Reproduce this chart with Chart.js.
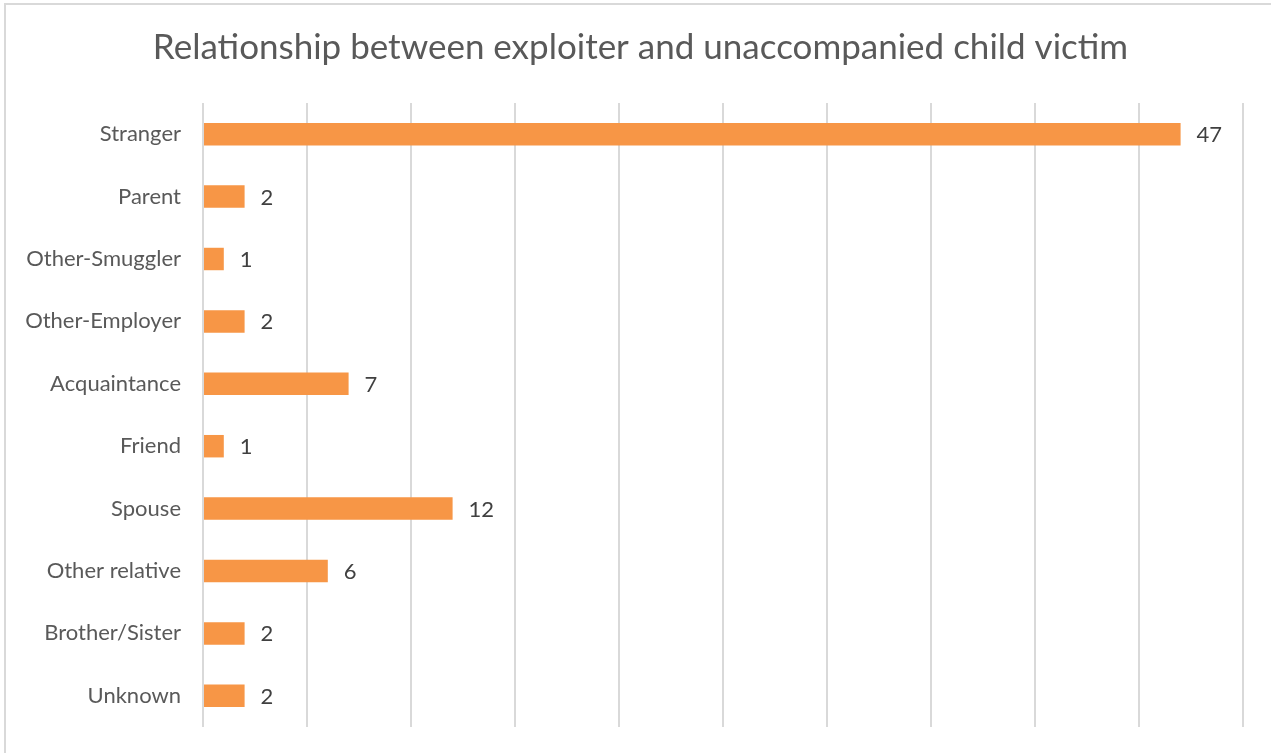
<!DOCTYPE html>
<html>
<head>
<meta charset="utf-8">
<script src="https://cdn.jsdelivr.net/npm/chart.js@4"></script>
<style>
    html, body { margin: 0; padding: 0; background: #ffffff; overflow: hidden; }
    #frame {
        position: absolute; left: 4px; top: 3px;
        width: 1280px; height: 780px;
        border: 2px solid #d9d9d9;
        box-sizing: border-box;
    }
    #wrap { position: absolute; left: 0; top: 0; width: 1271px; height: 753px; }
</style>
</head>
<body>
<div id="frame"></div>
<div id="wrap"><canvas id="barChart" width="1271" height="753"></canvas></div>
<script>
// ================= DATA =================
const categories = [
    "Stranger", "Parent", "Other-Smuggler", "Other-Employer", "Acquaintance",
    "Friend", "Spouse", "Other relative", "Brother/Sister", "Unknown"
];
const victimCounts = [47, 2, 1, 2, 7, 1, 12, 6, 2, 2];
const chartTitle = "Relationship between exploiter and unaccompanied child victim";

// ================= VALUE LABELS =================
const valueLabels = {
    id: "valueLabels",
    afterDatasetsDraw(chart) {
        const ctx = chart.ctx;
        const meta = chart.getDatasetMeta(0);
        ctx.save();
        ctx.font = "22px Lato";
        ctx.fillStyle = "#404040";
        ctx.textAlign = "left";
        ctx.textBaseline = "middle";
        meta.data.forEach((bar, i) => {
            ctx.fillText(String(victimCounts[i]), bar.x + 16, bar.y + 1);
        });
        ctx.restore();
    }
};

// ================= CHART =================
const ctx = document.getElementById("barChart").getContext("2d");
new Chart(ctx, {
    type: "bar",
    data: {
        labels: categories,
        datasets: [{
            data: victimCounts,
            backgroundColor: "#f79646",
            borderWidth: 0,
            barPercentage: 0.36,
            categoryPercentage: 1
        }]
    },
    options: {
        indexAxis: "y",
        responsive: false,
        animation: false,
        devicePixelRatio: 1,
        layout: { padding: { left: 10, right: 0, top: 0, bottom: 26 } },
        plugins: {
            legend: { display: false },
            tooltip: { enabled: false },
            title: {
                display: true,
                text: chartTitle,
                color: "#595959",
                font: { family: "Lato", size: 35, weight: "normal" },
                padding: { top: 27, bottom: 34 }
            }
        },
        scales: {
            x: {
                min: 0,
                max: 50,
                ticks: { display: false, stepSize: 5 },
                grid: { color: "#d9d9d9", lineWidth: 2, drawTicks: false },
                border: { display: false },
                afterFit(scale) { scale.height = 0; }
            },
            y: {
                ticks: {
                    color: "#595959",
                    font: { family: "Lato", size: 22 },
                    padding: 22
                },
                grid: { display: false, drawTicks: false },
                border: { display: false },
                afterFit(scale) {
                    scale.width = 193;
                    // tick padding would otherwise push the plot bottom up
                    scale.paddingTop = 0;
                    scale.paddingBottom = 0;
                }
            },
            // empty right-hand gutter so the plot ends where the reference does
            gutter: {
                axis: "y",
                position: "right",
                ticks: { display: false },
                grid: { display: false, drawTicks: false },
                border: { display: false },
                afterFit(scale) {
                    scale.width = 28;
                    scale.paddingTop = 0;
                    scale.paddingBottom = 0;
                }
            }
        }
    },
    plugins: [valueLabels]
});
</script>
</body>
</html>
